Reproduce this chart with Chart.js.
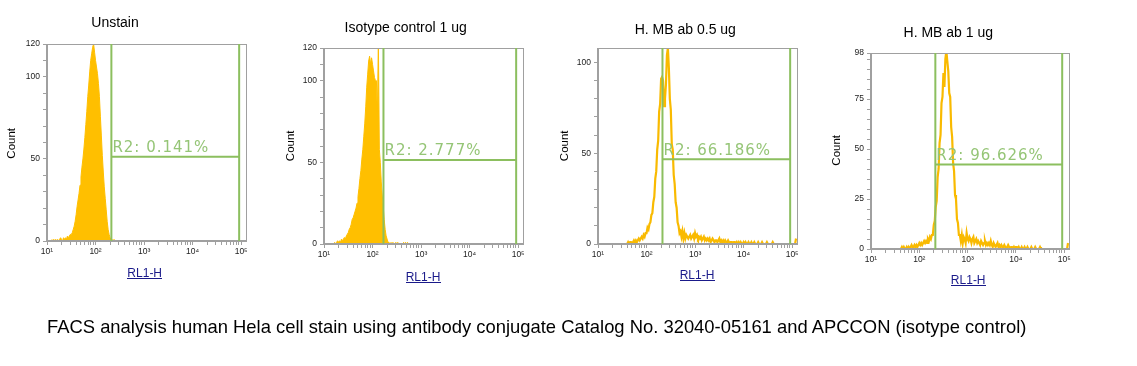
<!DOCTYPE html>
<html><head><meta charset="utf-8">
<script src="https://cdn.jsdelivr.net/npm/chart.js@4/dist/chart.umd.min.js"></script>
<style>
html,body{margin:0;padding:0;background:#fff;}
body{width:1137px;height:366px;overflow:hidden;position:relative;}
canvas.panel{position:absolute;left:0;top:0;}
#caption{position:absolute;left:47px;top:316px;font:18.4px "Liberation Sans",Arial,sans-serif;line-height:22px;color:#000;white-space:nowrap;}
</style></head><body>
<canvas id="p0" class="panel" width="1137" height="366"></canvas>
<canvas id="p1" class="panel" width="1137" height="366"></canvas>
<canvas id="p2" class="panel" width="1137" height="366"></canvas>
<canvas id="p3" class="panel" width="1137" height="366"></canvas>
<div id="caption">FACS analysis human Hela cell stain using antibody conjugate Catalog No. 32040-05161 and APCCON (isotype control)</div>
<script>
// ---------- data ----------
const panelTitles = ['Unstain', 'Isotype control 1 ug', 'H. MB ab 0.5 ug', 'H. MB ab 1 ug'];
const xAxisTitle = 'RL1-H';
const yAxisTitle = 'Count';
const gateLabels = ['R2: 0.141%', 'R2: 2.777%', 'R2: 66.186%', 'R2: 96.626%'];
const gateLow = [212, 168, 213, 215];          // RL1-H
const gateHigh = [91000, 91000, 91000, 91000]; // RL1-H
const gateLevel = [51.3, 51.5, 46.7, 42.3];    // Count
const yMax = [120, 120, 108, 98];
const yTickLabels = [[0, 50, 100, 120], [0, 50, 100, 120], [0, 50, 100], [0, 25, 50, 75, 98]];
const yMinorStep = [10, 10, 10, 5];
const xTickValues = [10, 100, 1000, 10000, 100000];
const xTickLabels = ['10\u00B9', '10\u00B2', '10\u00B3', '10\u2074', '10\u2075'];
const xMin = 10, xMax = 125893;

// histogram channels: log10(RL1-H) of first channel, channel width 0.02 decade
const channelStep = 0.02;
const unstainStart = 1.10;
const unstainCounts = [
  1,0,1,0,1,0,1,0,1,2,
  1,0,2,1,2,1,3,2,3,4,
  4,5,7,9,12,16,21,25,29,34,
  39,45,50,56,63,71,79,88,95,103,
  110,114,118,120,115,110,106,102,96,88,
  76,64,52,42,33,26,19,12,7,4,
  2,1,1,0,1,0
];
const isotypeStart = 1.20;
const isotypeCounts = [
  0,1,0,1,2,1,2,1,3,2,
  3,4,3,5,6,7,9,10,12,15,
  16,18,20,22,25,29,34,40,45,52,
  58,66,74,84,96,104,112,115,110,114,
  110,106,102,100,100,78,125,58,50,38,
  30,23,15,9,5,3,1,1,0,1,
  0,1,0,0,1,0,1,0,0,0,
  0,0,1,0,1,0,1,0,0,0
];
const mb05Start = 1.60;
const mb05Counts = [
  0,1,0,1,1,0,1,2,1,2,
  1,2,3,2,3,4,3,5,4,6,
  6,9,8,11,12,16,17,23,26,36,
  40,52,57,73,77,91,92,90,76,80,
  88,104,108,97,80,74,55,52,38,33,
  23,20,12,10,6,7,4,7,3,6,
  3,5,4,3,4,5,3,4,5,3,
  6,4,5,3,4,3,4,2,3,4,
  2,3,2,3,2,3,1,2,3,2,
  1,2,2,1,2,3,1,2,1,2,
  1,2,1,1,2,1,0,1,1,0,
  1,1,0,1,0,1,0,1,0,0,
  1,0,1,0,0,1,0,0,1,0,
  0,1,0,0,0,1,0,0,0,1,
  0,0,0,0,1,0,0,0,0,0,
  1,0,0,0,0,0,0,0,0,0,
  0,0,0,0,0,0,0,0,0,0,
  0,0,0,0,3
];
const mb1Start = 1.60;
const mb1Counts = [
  0,0,1,0,1,0,0,1,0,1,
  0,1,2,1,1,2,1,2,1,2,
  3,2,3,2,3,4,3,4,3,5,
  4,6,5,7,7,12,14,21,24,36,
  40,53,57,73,76,88,81,95,99,94,
  89,78,76,61,56,43,39,27,25,15,
  13,7,7,4,7,3,6,5,3,8,
  5,4,6,5,3,5,6,3,4,5,
  3,4,3,2,4,3,2,3,4,2,
  3,2,3,2,4,2,1,3,2,1,
  2,3,1,2,1,2,1,1,2,1,
  0,1,2,1,0,1,1,0,1,0,
  1,1,0,1,0,0,1,0,0,1,
  0,0,1,0,0,0,1,0,0,0,
  1,0,0,0,0,1,0,0,0,0,
  0,0,0,0,0,0,0,0,0,0,
  0,0,0,0,0,0,0,0,0,0,
  0,0,0,0,3
];
const seriesStarts = [unstainStart, isotypeStart, mb05Start, mb1Start];
const seriesCounts = [unstainCounts, isotypeCounts, mb05Counts, mb1Counts];
const seriesFilled = [true, true, false, false];

// ---------- layout / style ----------
const layoutBoxes = [
  {area: [47, 44, 246, 241], title: [115, 26.7], count: [12, 143.3], axis: [144.7, 276.7]},
  {area: [324, 48, 523, 244], title: [405.7, 32.3], count: [291, 145.8], axis: [423, 280.5]},
  {area: [598, 48, 797, 244], title: [685.3, 34], count: [565, 145.8], axis: [697, 279.3]},
  {area: [871, 53, 1069, 249], title: [948.3, 36.7], count: [837, 150.3], axis: [968.2, 284]}
];
const PAGE_W = 1137, PAGE_H = 366, Y_AXIS_W = 30, X_AXIS_H = 20;
const AXIS_GRAY = '#a0a0a0';
const HIST_COLOR = '#FFBF00';
const LINE_COLOR = '#F9BA00';
const GATE_COLOR = '#8CBF5F';
const GATE_TEXT = '#95C576';

const decor = {
  id: 'decor',
  afterDatasetsDraw(chart, args, opts) {
    const i = opts.index;
    const {ctx, chartArea: a, scales: {x, y}} = chart;
    ctx.save();
    ctx.strokeStyle = AXIS_GRAY; ctx.lineWidth = 1;
    ctx.strokeRect(Math.round(a.left) - 0.5, Math.round(a.top) + 0.5, Math.round(a.right - a.left) + 1, Math.round(a.bottom - a.top) - 1);
    const gx1 = x.getPixelForValue(gateLow[i]);
    const gx2 = x.getPixelForValue(gateHigh[i]);
    const gy = y.getPixelForValue(gateLevel[i]);
    ctx.strokeStyle = GATE_COLOR; ctx.lineWidth = 2;
    ctx.beginPath();
    ctx.moveTo(gx1, a.top); ctx.lineTo(gx1, a.bottom);
    ctx.moveTo(gx2, a.top); ctx.lineTo(gx2, a.bottom);
    ctx.moveTo(gx1, gy); ctx.lineTo(gx2, gy);
    ctx.stroke();
    ctx.fillStyle = GATE_TEXT;
    ctx.font = '15px "DejaVu Sans"';
    try { ctx.letterSpacing = '1px'; } catch (e) {}
    ctx.textAlign = 'left'; ctx.textBaseline = 'alphabetic';
    ctx.fillText(gateLabels[i], gx1 + 1, gy - 4.5);
    ctx.restore();
  },
  afterDraw(chart, args, opts) {
    const i = opts.index;
    const L = layoutBoxes[i];
    const ctx = chart.ctx;
    ctx.save();
    ctx.fillStyle = '#000';
    ctx.font = '14px "Liberation Sans", Arial, sans-serif';
    ctx.textAlign = 'center'; ctx.textBaseline = 'alphabetic';
    ctx.fillText(panelTitles[i], L.title[0], L.title[1]);
    ctx.save();
    ctx.translate(L.count[0], L.count[1]);
    ctx.rotate(-Math.PI / 2);
    ctx.font = '11.5px "Liberation Sans", Arial, sans-serif';
    ctx.textBaseline = 'middle';
    ctx.fillText(yAxisTitle, 0, 0);
    ctx.restore();
    ctx.fillStyle = '#1a1a8a';
    ctx.font = '12px "Liberation Sans", Arial, sans-serif';
    ctx.fillText(xAxisTitle, L.axis[0], L.axis[1]);
    const w = ctx.measureText(xAxisTitle).width;
    ctx.fillRect(Math.round(L.axis[0] - w / 2), Math.round(L.axis[1]) + 1, Math.round(w), 1);
    ctx.restore();
  }
};

for (let i = 0; i < 4; i++) {
  const L = layoutBoxes[i];
  const pts = seriesCounts[i].map((c, k) => ({x: Math.pow(10, seriesStarts[i] + k * channelStep), y: c}));
  const filled = seriesFilled[i];
  new Chart(document.getElementById('p' + i), {
    type: 'line',
    data: {datasets: [{
      data: pts,
      borderColor: filled ? HIST_COLOR : LINE_COLOR,
      backgroundColor: HIST_COLOR,
      borderWidth: filled ? 1 : 2.2,
      fill: filled ? 'origin' : false,
      pointRadius: 0,
      tension: 0
    }]},
    options: {
      responsive: false, animation: false, events: [],
      layout: {padding: {left: L.area[0] - Y_AXIS_W, top: L.area[1], right: PAGE_W - L.area[2], bottom: PAGE_H - L.area[3] - X_AXIS_H}},
      plugins: {legend: {display: false}, tooltip: {enabled: false}, title: {display: false}, decor: {index: i}},
      scales: {
        x: {
          type: 'logarithmic', min: xMin, max: xMax,
          border: {color: AXIS_GRAY},
          grid: {drawOnChartArea: false, drawTicks: true, tickLength: 4, color: AXIS_GRAY},
          ticks: {autoSkip: false, maxRotation: 0, minRotation: 0, padding: 2, color: '#222',
            font: {family: '"Liberation Sans", "DejaVu Sans", sans-serif', size: 8.5},
            callback: (v) => { const j = xTickValues.indexOf(v); return j >= 0 ? xTickLabels[j] : ''; }},
          afterBuildTicks: (s) => {
            const t = [];
            for (let n = 1; n <= 4; n++) for (let k = 1; k <= 9; k++) t.push({value: k * Math.pow(10, n)});
            t.push({value: 100000});
            s.ticks = t;
          },
          afterFit: (s) => { s.height = X_AXIS_H; s.paddingLeft = 0; s.paddingRight = 0; }
        },
        y: {
          type: 'linear', min: 0, max: yMax[i],
          border: {color: AXIS_GRAY},
          grid: {drawOnChartArea: false, drawTicks: true, tickLength: 4, color: AXIS_GRAY},
          ticks: {autoSkip: false, padding: 3, color: '#222',
            font: {family: '"Liberation Sans", "DejaVu Sans", sans-serif', size: 8.5},
            callback: (v) => yTickLabels[i].includes(v) ? String(v) : ''},
          afterBuildTicks: (s) => {
            const t = [];
            for (let v = 0; v <= yMax[i]; v += yMinorStep[i]) t.push({value: v});
            if (yTickLabels[i].includes(yMax[i]) && !t.some(o => o.value === yMax[i])) t.push({value: yMax[i]});
            s.ticks = t;
          },
          afterFit: (s) => { s.width = Y_AXIS_W; s.paddingTop = 0; s.paddingBottom = 0; }
        }
      }
    },
    plugins: [decor]
  });
}
</script>
</body></html>
